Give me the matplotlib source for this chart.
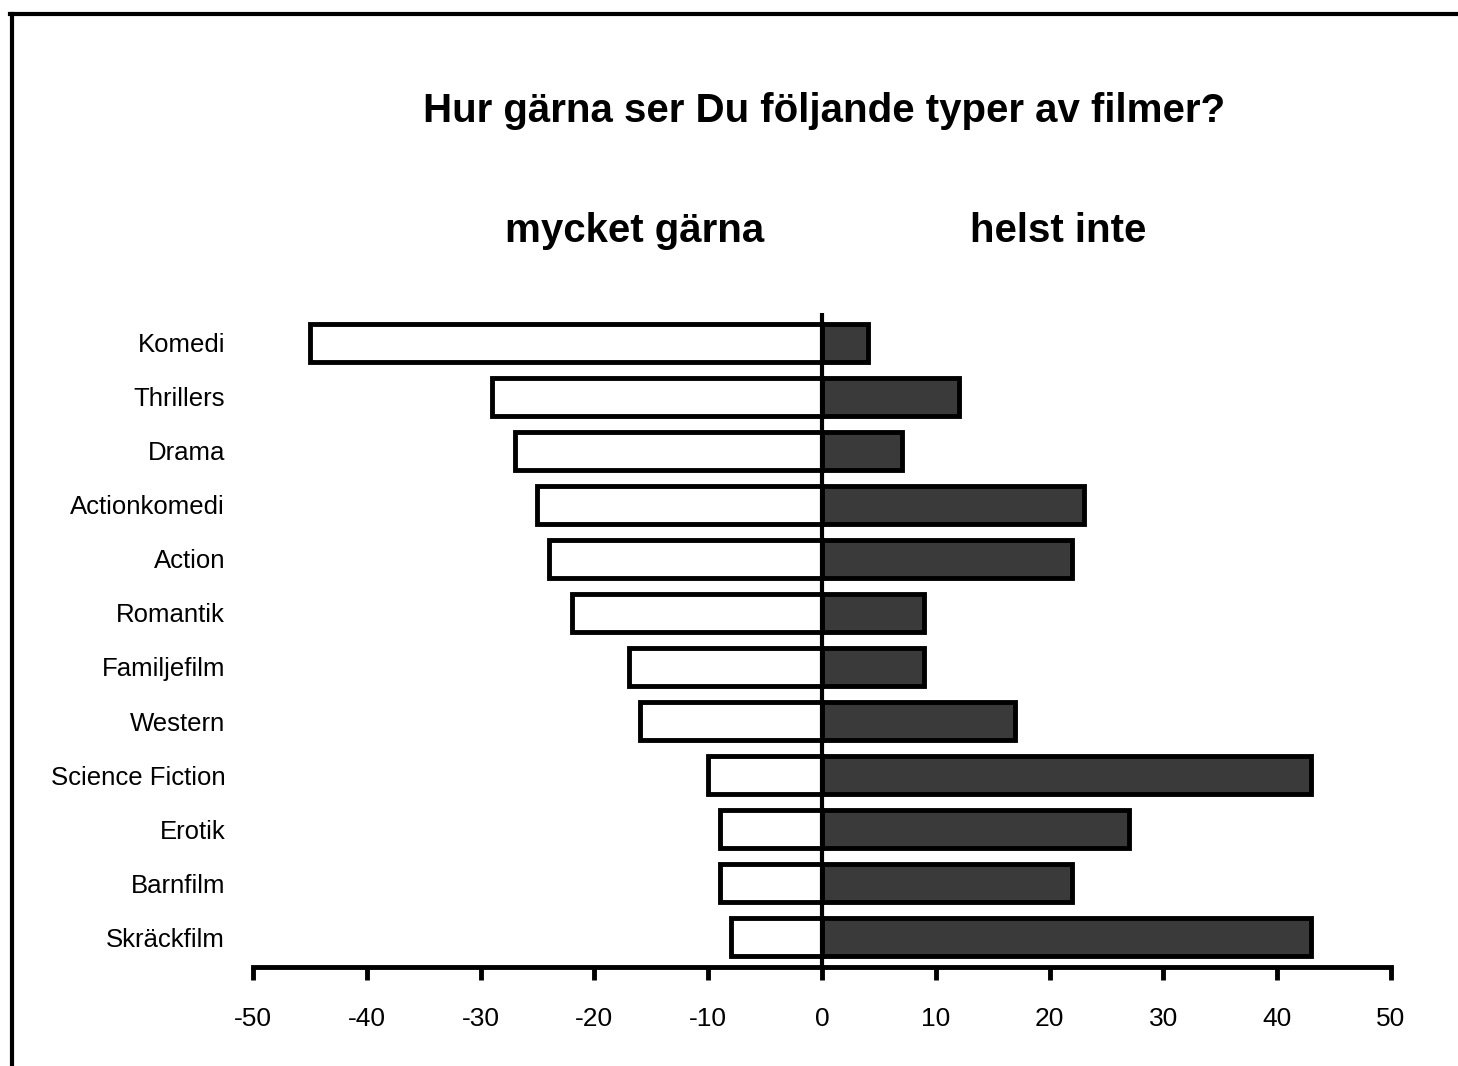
import matplotlib.pyplot as plt
from matplotlib.lines import Line2D

plt.rcParams["font.family"] = ["Liberation Sans", "DejaVu Sans"]

categories = [
    "Komedi", "Thrillers", "Drama", "Actionkomedi", "Action", "Romantik",
    "Familjefilm", "Western", "Science Fiction", "Erotik", "Barnfilm", "Skräckfilm",
]
mycket_garna = [-45, -29, -27, -25, -24, -22, -17, -16, -10, -9, -9, -8]
helst_inte = [4, 12, 7, 23, 22, 9, 9, 17, 43, 27, 22, 43]
xticks = [-50, -40, -30, -20, -10, 0, 10, 20, 30, 40, 50]

fig = plt.figure(figsize=(14.58, 10.66), dpi=100)
ax = fig.add_axes([0.1735, 0.0929, 0.7806, 0.6135])

pos = list(range(len(categories)))
ax.barh(pos, mycket_garna, height=0.7, color="white", edgecolor="black", linewidth=3.5, zorder=2)
ax.barh(pos, helst_inte, height=0.7, color="#3a3a3a", edgecolor="black", linewidth=3.5, zorder=2)
ax.axvline(0, color="black", linewidth=3, zorder=3)

ax.set_xlim(-50, 50)
ax.set_ylim(len(categories) - 0.45, -0.55)
ax.set_yticks(pos)
ax.set_yticklabels(categories, fontsize=18.5)
ax.tick_params(axis="y", length=0, pad=20)
ax.set_xticks(xticks)
ax.set_xticklabels([str(t) for t in xticks], fontsize=19)
ax.tick_params(axis="x", direction="out", length=9, width=3.5, pad=20)

for side in ("left", "right", "top"):
    ax.spines[side].set_visible(False)
ax.spines["bottom"].set_linewidth(3.5)

fig.text(0.565, 0.896, "Hur gärna ser Du följande typer av filmer?",
         ha="center", va="center", fontsize=29, fontweight="bold")
fig.text(0.435, 0.783, "mycket gärna", ha="center", va="center", fontsize=29, fontweight="bold")
fig.text(0.726, 0.783, "helst inte", ha="center", va="center", fontsize=29, fontweight="bold")

# scan frame
fig.add_artist(Line2D([0.007, 1.0], [0.987, 0.987], color="black", linewidth=3))
fig.add_artist(Line2D([0.0082, 0.0082], [0.987, 0.0], color="black", linewidth=3))

fig.savefig("out.png", dpi=100)
